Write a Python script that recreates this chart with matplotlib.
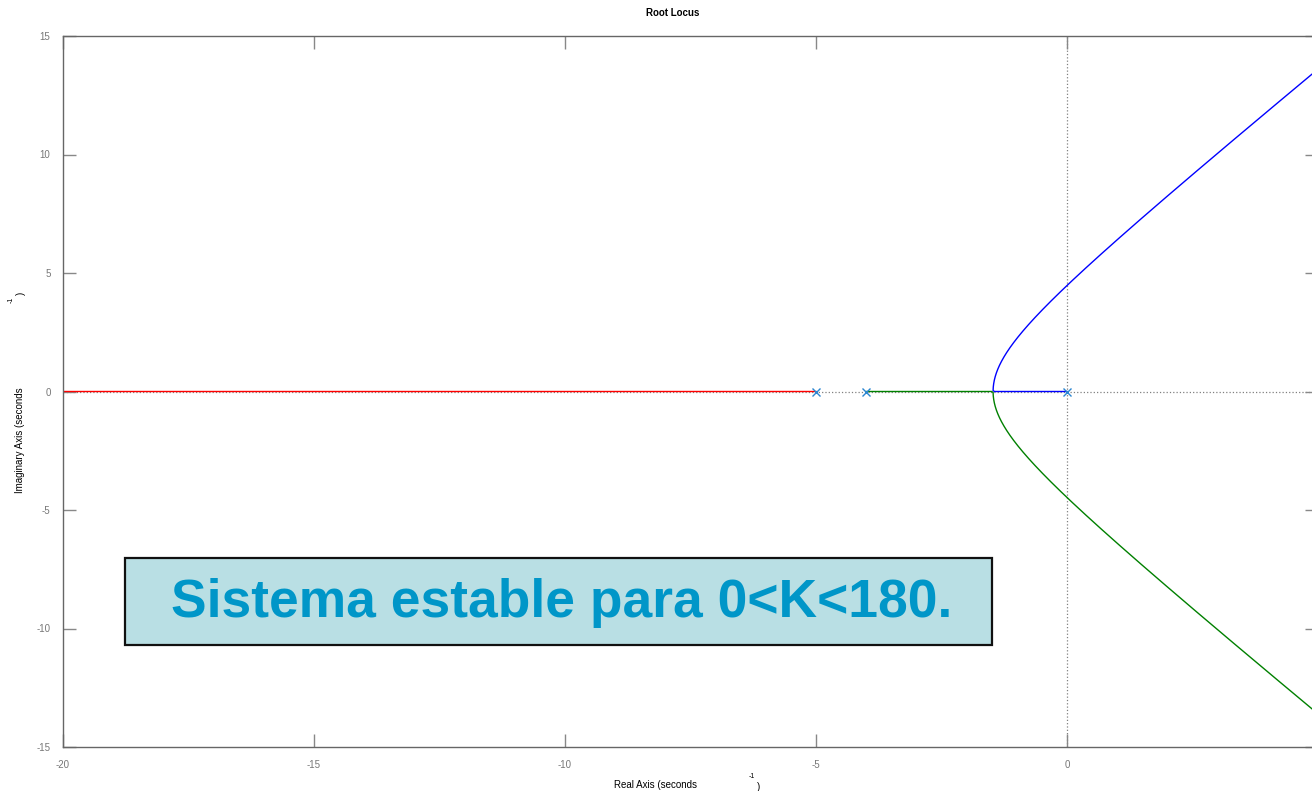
import numpy as np
import matplotlib
matplotlib.use("Agg")
import matplotlib.pyplot as plt
from matplotlib.patches import Rectangle

# Open-loop poles of G(s) = K / (s (s+4) (s+5))
poles = [0.0, -4.0, -5.0]
gain_max = 20000.0
x_ticks = [-20, -15, -10, -5, 0]
y_ticks = [-15, -10, -5, 0, 5, 10, 15]
title = "Root Locus"
note = "Sistema estable para 0<K<180."

plt.rcParams['font.family'] = ['Liberation Sans', 'DejaVu Sans']
plt.rcParams['axes.unicode_minus'] = False

W, H = 1312, 791
fig = plt.figure(figsize=(W / 100, H / 100), dpi=100)
# axes: left spine at px 63, x=-20..5 with ~50.2 px/unit, y top 36, bottom 747
ax_l = 63 / W
ax_w = 1255 / W
ax_b = (H - 747) / H
ax_h = 711 / H
ax = fig.add_axes([ax_l, ax_b, ax_w, ax_h])

# root locus via characteristic polynomial
den = np.poly(poles)
Ks = np.unique(np.concatenate([np.linspace(0, 30, 3000),
                               np.geomspace(30, gain_max, 4000)]))
red, green, blue = [], [], []
for K in Ks:
    c = den.copy()
    c[-1] += K
    r = np.roots(c)
    if np.all(np.abs(r.imag) < 1e-7):
        r = np.sort(r.real)
        red.append(r[0]); green.append(r[1]); blue.append(r[2])
    else:
        real_idx = np.argmin(np.abs(r.imag))
        rr = r[real_idx]
        others = np.delete(r, real_idx)
        up = others[np.argmax(others.imag)]
        dn = others[np.argmin(others.imag)]
        red.append(rr.real + 0j); blue.append(up); green.append(dn)
red = np.array(red, dtype=complex)
green = np.array(green, dtype=complex)
blue = np.array(blue, dtype=complex)

ax.axhline(0, color='#808080', ls=':', lw=0.9, zorder=1)
ax.axvline(0, color='#808080', ls=':', lw=0.9, zorder=1)

ax.plot(red.real, red.imag, color='#FF0000', lw=1.0, zorder=2)
ax.plot(green.real, green.imag, color='#008000', lw=1.0, zorder=2)
ax.plot(blue.real, blue.imag, color='#0000FF', lw=1.0, zorder=2)
ax.plot(poles, [0] * len(poles), 'x', color='#2B86D0', ms=6, mew=1.0, zorder=3)

ax.set_xlim(-20, 5)
ax.set_ylim(-15, 15)
ax.set_xticks(x_ticks)
ax.set_yticks(y_ticks)
ax.tick_params(direction='in', length=9.5, width=1, color='#888888',
               labelcolor='#777777', labelsize=7, pad=9,
               top=True, right=True)
for s in ax.spines.values():
    s.set_color('#666666')
    s.set_linewidth(1)

# title and axis labels
fig.text(673 / W, 1 - 13 / H, title, ha='center', va='center',
         fontsize=7, fontweight='bold', color='#000000')
fig.text(656 / W, 1 - 785 / H, "Real Axis (seconds", ha='center', va='center',
         fontsize=7, color='#000000')
fig.text(752 / W, 1 - 776 / H, "-1", ha='center', va='center',
         fontsize=5, color='#000000')
fig.text(759 / W, 1 - 787 / H, ")", ha='center', va='center',
         fontsize=7, color='#000000')
fig.text(20 / W, 1 - 440 / H, "Imaginary Axis (seconds", ha='center', va='center',
         rotation=90, fontsize=7, color='#000000')
fig.text(11 / W, 1 - 300 / H, "-1", ha='center', va='center',
         rotation=90, fontsize=5, color='#000000')
fig.text(21 / W, 1 - 293 / H, ")", ha='center', va='center',
         rotation=90, fontsize=7, color='#000000')

# annotation box
rect = Rectangle((125 / W, 1 - 645 / H), (992 - 125) / W, (645 - 558) / H,
                 transform=fig.transFigure, facecolor='#B9DFE4',
                 edgecolor='#111111', lw=1.6, zorder=5)
fig.patches.append(rect)
fig.text(561.5 / W, 1 - 603 / H, note, ha='center', va='center',
         fontsize=38.4, fontweight='bold', color='#0096C8', zorder=6)

fig.savefig("out.png", dpi=100)
